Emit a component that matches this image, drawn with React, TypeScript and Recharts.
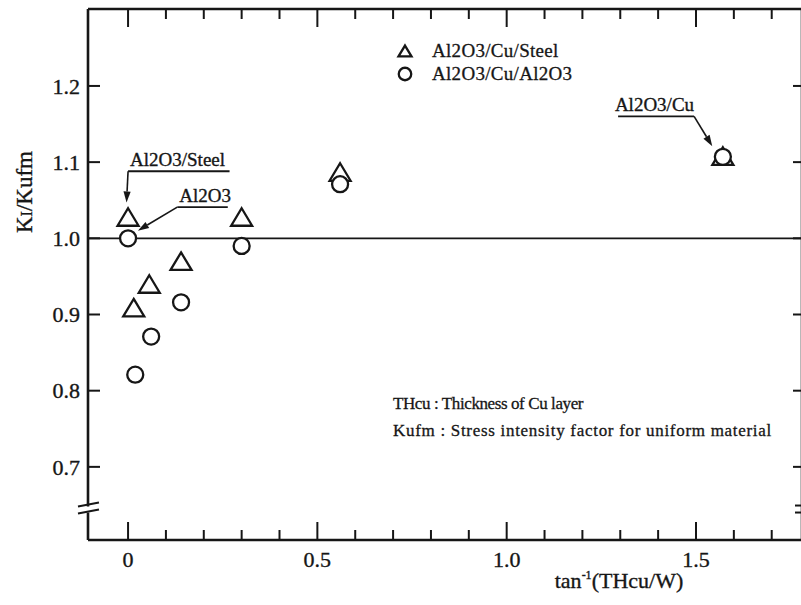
import React from "react";
import { ScatterChart, Scatter, XAxis, YAxis, ReferenceLine, ReferenceDot, Legend } from "recharts";

// tan^-1(THcu/W) vs KI/Kufm
const steelX = [0, 0.015, 0.056, 0.14, 0.3, 0.56, 1.571];
const steelY = [1.028, 0.909, 0.94, 0.97, 1.028, 1.087, 1.108];
const aluminaX = [0, 0.019, 0.061, 0.14, 0.3, 0.56, 1.571];
const aluminaY = [1.0, 0.821, 0.871, 0.916, 0.99, 1.071, 1.107];

const xTicks = [0, 0.1, 0.2, 0.3, 0.4, 0.5, 0.6, 0.7, 0.8, 0.9, 1.0, 1.1, 1.2, 1.3, 1.4, 1.5, 1.6, 1.7];
const xTickLabels = ["0", "", "", "", "", "0.5", "", "", "", "", "1.0", "", "", "", "", "1.5", "", ""];
const yTicks = [0.7, 0.8, 0.9, 1.0, 1.1, 1.2];
const yTickLabels = ["0.7", "0.8", "0.9", "1.0", "1.1", "1.2"];

const seriesNames = ["Al2O3/Cu/Steel", "Al2O3/Cu/Al2O3"];
const notes = ["THcu : Thickness of Cu layer", "Kufm : Stress intensity factor for uniform material"];

// callouts: label, underline anchor, arrow target
const callouts = [
  { text: "Al2O3/Steel", from: { x: 0.0, y: 1.088 }, to: { x: -0.004, y: 1.047 }, dir: 1 },
  { text: "Al2O3", from: { x: 0.13, y: 1.041 }, to: { x: 0.026, y: 1.01 }, dir: 1 },
  { text: "Al2O3/Cu", from: { x: 1.495, y: 1.16 }, to: { x: 1.543, y: 1.121 }, dir: -1 },
];

const X_DOMAIN: [number, number] = [-0.1058, 1.78];
const Y_DOMAIN: [number, number] = [0.604, 1.301];
const BREAK_Y = 0.644;

const INK = "#161616";
const SERIF = "'Liberation Serif', 'Times New Roman', 'DejaVu Serif', serif";
const TEXT_EDGE = { stroke: INK, strokeWidth: 0.35 };

const steelData = steelX.map((x, i) => ({ x, y: steelY[i] }));
const aluminaData = aluminaX.map((x, i) => ({ x, y: aluminaY[i] }));

const isMajor = (v: number) => Math.abs(v * 2 - Math.round(v * 2)) < 1e-6;
const xLabel = (v: number) => xTickLabels[xTicks.findIndex((t) => Math.abs(t - v) < 1e-6)] || "";
const yLabel = (v: number) => yTickLabels[yTicks.findIndex((t) => Math.abs(t - v) < 1e-6)] || "";

function BottomTick({ x, y, payload }: any) {
  const major = isMajor(payload.value);
  return (
    <g>
      <line x1={x} x2={x} y1={y} y2={y - (major ? 18 : 10)} stroke={INK} strokeWidth={2} />
      {major && (
        <text x={x} y={y + 27} textAnchor="middle" fontSize={22} fontFamily={SERIF} fill={INK} {...TEXT_EDGE}>
          {xLabel(payload.value)}
        </text>
      )}
    </g>
  );
}

function TopTick({ x, y, payload }: any) {
  const major = isMajor(payload.value);
  return <line x1={x} x2={x} y1={y} y2={y + (major ? 18 : 10)} stroke={INK} strokeWidth={2} />;
}

function LeftTick({ x, y, payload }: any) {
  return (
    <g>
      <line x1={x} x2={x + 12} y1={y} y2={y} stroke={INK} strokeWidth={2} />
      <text x={x - 8} y={y} dy="0.35em" textAnchor="end" fontSize={22} fontFamily={SERIF} fill={INK} {...TEXT_EDGE}>
        {yLabel(payload.value)}
      </text>
    </g>
  );
}

function RightTick({ x, y }: any) {
  return <line x1={x} x2={x - 9} y1={y} y2={y} stroke={INK} strokeWidth={2} />;
}

function Triangle({ cx, cy, scale = 1 }: any) {
  const w = 10.5 * scale;
  const h = 17.5 * scale;
  return (
    <path
      d={`M${cx},${cy - h / 2} L${cx + w},${cy + h / 2} L${cx - w},${cy + h / 2} Z`}
      fill="#fff"
      stroke={INK}
      strokeWidth={2.3}
      strokeLinejoin="miter"
    />
  );
}

function Circle({ cx, cy, scale = 1 }: any) {
  return <circle cx={cx} cy={cy} r={8 * scale} fill="#fff" stroke={INK} strokeWidth={2.3} />;
}

const makeCallout = (text: string, dir: number) => (props: any) => {
  const { x1, y1, x2, y2 } = props;
  const len = Math.hypot(x2 - x1, y2 - y1) || 1;
  const ux = (x2 - x1) / len;
  const uy = (y2 - y1) / len;
  const hl = 11;
  const hw = 3.6;
  const bx = x2 - ux * hl;
  const by = y2 - uy * hl;
  const lineW = text.length * 8.5 + 8;
  const ex = x1 + dir * lineW;
  return (
    <g>
      <line x1={x1} y1={y1} x2={ex} y2={y1} stroke={INK} strokeWidth={1.8} />
      <line x1={x1} y1={y1} x2={bx} y2={by} stroke={INK} strokeWidth={1.6} />
      <polygon
        points={`${x2},${y2} ${bx - uy * hw},${by + ux * hw} ${bx + uy * hw},${by - ux * hw}`}
        fill={INK}
      />
      <text
        x={dir > 0 ? x1 + 2 : x1}
        y={y1 - 5}
        textAnchor={dir > 0 ? "start" : "end"}
        fontSize={19}
        fontFamily={SERIF}
        fill={INK}
        {...TEXT_EDGE}
      >
        {text}
      </text>
    </g>
  );
};

function LeftBreak({ cx, cy }: any) {
  return (
    <g>
      <rect x={cx - 3} y={cy - 3} width={6} height={6} fill="#fff" />
      <line x1={cx - 10} y1={cy - 3} x2={cx + 11} y2={cy - 7} stroke={INK} strokeWidth={2} />
      <line x1={cx - 10} y1={cy + 4} x2={cx + 11} y2={cy} stroke={INK} strokeWidth={2} />
    </g>
  );
}

function RightBreak({ cx, cy }: any) {
  return (
    <g>
      <line x1={cx - 7} y1={cy - 4} x2={cx} y2={cy - 4} stroke={INK} strokeWidth={2} />
      <line x1={cx - 7} y1={cy + 3} x2={cx} y2={cy + 3} stroke={INK} strokeWidth={2} />
    </g>
  );
}

function LegendBox() {
  const row = { display: "flex", alignItems: "center", height: 23 } as const;
  return (
    <div
      style={{
        fontFamily: SERIF,
        fontSize: 19,
        letterSpacing: 0.3,
        color: INK,
        WebkitTextStroke: "0.3px " + INK,
      }}
    >
      {seriesNames.map((name, i) => (
        <div key={name} style={row}>
          <svg width={20} height={20} style={{ marginRight: 17 }}>
            {i === 0 ? <Triangle cx={10} cy={10} scale={0.62} /> : <Circle cx={10} cy={10} scale={0.78} />}
          </svg>
          <span>{name}</span>
        </div>
      ))}
    </div>
  );
}

function XTitle() {
  return (
    <text x={619} y={588} textAnchor="middle" fontSize={22} fontFamily={SERIF} fill={INK} {...TEXT_EDGE}>
      tan
      <tspan dy={-9} fontSize={12}>-1</tspan>
      <tspan dy={9}>(THcu/W)</tspan>
    </text>
  );
}

function YTitle() {
  return (
    <text
      x={24}
      y={192}
      transform="rotate(-90 24 192)"
      textAnchor="middle"
      dy="0.35em"
      fontSize={23}
      fontFamily={SERIF}
      fill={INK}
      {...TEXT_EDGE}
    >
      K<tspan fontSize={16}>I</tspan>/Kufm
    </text>
  );
}

export default function App() {
  return (
    <div style={{ position: "relative", width: 801, height: 605, overflow: "hidden", background: "#fff" }}>
      <style>{"body{margin:0;background:#fff}"}</style>
      <ScatterChart width={803} height={605} margin={{ top: 0, right: 0, bottom: 0, left: 0 }}>
        <XAxis
          xAxisId={0}
          type="number"
          dataKey="x"
          domain={X_DOMAIN}
          allowDataOverflow
          ticks={xTicks}
          interval={0}
          height={65}
          tickSize={0}
          tickMargin={0}
          tickLine={false}
          tick={<BottomTick />}
          axisLine={{ stroke: INK, strokeWidth: 2.6 }}
          label={<XTitle />}
        />
        <XAxis
          xAxisId="top"
          orientation="top"
          type="number"
          dataKey="x"
          domain={X_DOMAIN}
          allowDataOverflow
          ticks={xTicks}
          interval={0}
          height={9}
          tickSize={0}
          tickMargin={0}
          tickLine={false}
          tick={<TopTick />}
          axisLine={{ stroke: INK, strokeWidth: 2.6 }}
        />
        <YAxis
          yAxisId={0}
          type="number"
          dataKey="y"
          domain={Y_DOMAIN}
          allowDataOverflow
          ticks={yTicks}
          interval={0}
          width={88}
          tickSize={0}
          tickMargin={0}
          tickLine={false}
          tick={<LeftTick />}
          axisLine={{ stroke: INK, strokeWidth: 2.6 }}
          label={<YTitle />}
        />
        <YAxis
          yAxisId="right"
          orientation="right"
          type="number"
          dataKey="y"
          domain={Y_DOMAIN}
          allowDataOverflow
          ticks={yTicks}
          interval={0}
          width={1}
          tickSize={0}
          tickMargin={0}
          tickLine={false}
          tick={<RightTick />}
          axisLine={{ stroke: INK, strokeWidth: 2.6 }}
        />
        <ReferenceLine y={1} stroke={INK} strokeWidth={1.7} />
        {callouts.map((c) => (
          <ReferenceLine
            key={c.text}
            segment={[c.from, c.to]}
            shape={makeCallout(c.text, c.dir)}
          />
        ))}
        <ReferenceDot x={X_DOMAIN[0]} y={BREAK_Y} shape={<LeftBreak />} />
        <ReferenceDot x={X_DOMAIN[1]} y={BREAK_Y} shape={<RightBreak />} />
        <Scatter name={seriesNames[0]} data={steelData} shape={<Triangle />} isAnimationActive={false} />
        <Scatter name={seriesNames[1]} data={aluminaData} shape={<Circle />} isAnimationActive={false} />
        <Legend
          layout="horizontal"
          verticalAlign="middle"
          align="center"
          content={<LegendBox />}
          wrapperStyle={{ position: "absolute", top: 39, left: 395, width: "auto", height: "auto" }}
        />
      </ScatterChart>
      <div
        style={{
          position: "absolute",
          left: 393,
          top: 390,
          fontFamily: SERIF,
          fontSize: 17,
          color: INK,
          lineHeight: "27px",
          whiteSpace: "nowrap",
          WebkitTextStroke: "0.3px " + INK,
        }}
      >
        {notes.map((n, i) => (
          <div key={n} style={{ letterSpacing: i === 0 ? -0.4 : 0.7 }}>
            {n}
          </div>
        ))}
      </div>
    </div>
  );
}
